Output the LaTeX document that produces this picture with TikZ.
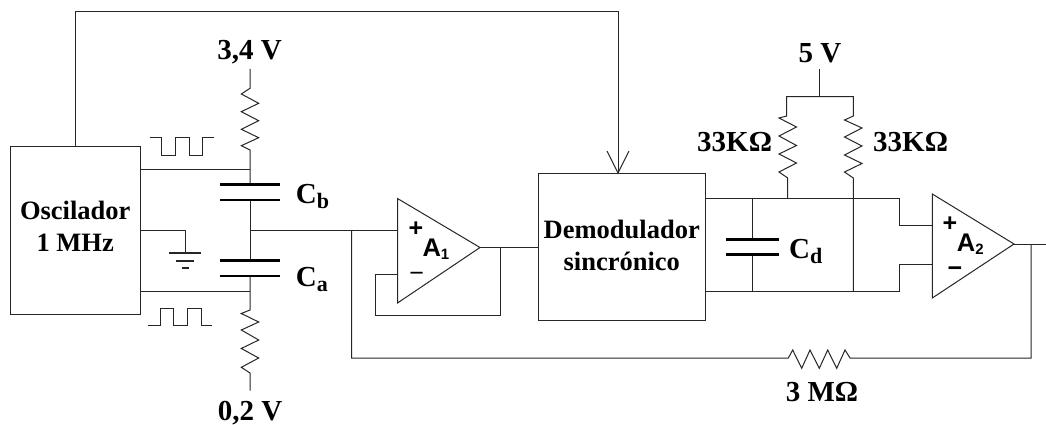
\documentclass[tikz,border=0pt]{standalone}
\usepackage{fontspec}
\setmainfont{Liberation Serif}
\newfontfamily\ampfont{Liberation Sans}
\newcommand{\lblsub}[1]{\raisebox{-5pt}{\fontsize{22}{24}\selectfont #1}}
\tikzset{
  x=1pt,y=-1pt,
  wire/.style={draw=black!85,line width=1pt,line join=miter},
  plate/.style={draw=black,line width=2.4pt},
  blockbox/.style={draw=black!85,line width=1pt,inner sep=0pt},
  blocktext/.style={inner sep=0pt,align=center,font=\bfseries\fontsize{26.5}{32}\selectfont},
  lbl/.style={anchor=base west,inner sep=0pt,font=\bfseries\fontsize{29}{30}\selectfont},
  clbl/.style={anchor=base,inner sep=0pt,font=\bfseries\fontsize{29}{30}\selectfont},
  amp/.style={anchor=base west,inner sep=0pt,font=\ampfont\bfseries\fontsize{25.5}{28}\selectfont},
  sign/.style={anchor=center,inner sep=0pt,font=\ampfont\bfseries\fontsize{25}{26}\selectfont},
  thinsign/.style={anchor=center,inner sep=0pt,font=\ampfont\fontsize{25}{26}\selectfont},
}
\begin{document}
\begin{tikzpicture}
\useasboundingbox (0,0) rectangle (1046,425);
\fill[white] (0,0) rectangle (1046,425);
% blocks
\node[blockbox,minimum width=129.5pt,minimum height=167.5pt] (osc) at (75.25,230.25) {};
\node[blocktext] (osctext) at (75.25,226) {Oscilador\\1 MHz};
\node[blockbox,minimum width=166.5pt,minimum height=146.5pt] (dem) at (621.75,246.75) {};
\node[blocktext] (demtext) at (621.75,245) {Demodulador\\sincrónico};
% op-amps
\coordinate (a1t) at (397.5,198.5); \coordinate (a1b) at (397.5,303); \coordinate (a1o) at (480,247.5);
\coordinate (a2t) at (932.3,194); \coordinate (a2b) at (932.3,298); \coordinate (a2o) at (1014,244);
\draw[wire] (a1t) -- (a1o) -- (a1b) -- cycle;
\draw[wire] (a2t) -- (a2o) -- (a2b) -- cycle;
\node[sign] (a1plus) at (416,229) {+};
\node[thinsign] (a1minus) at (416.7,276.5) {−};
\node[amp] (a1lab) at (422.3,256) {A\raisebox{-3pt}{\fontsize{15}{16}\selectfont 1}};
\node[sign] (a2plus) at (950,224.3) {+};
\node[sign] (a2minus) at (955,271.5) {−};
\node[amp] (a2lab) at (956.7,251) {A\raisebox{-3pt}{\fontsize{15}{16}\selectfont 2}};
% top reference line with open arrow
\coordinate (topl) at (75.5,11.5); \coordinate (topr) at (618,11.5);
\coordinate (arrl) at (607,151); \coordinate (arrr) at (629,151);
\draw[wire] (osc.north -| topl) -- (topl) -- (topr) -- (dem.north -| topr);
\draw[wire] (arrl) -- (dem.north -| topr) -- (arrr);
% left column, Cb
\coordinate (vtop) at (250,69); \coordinate (rbi) at (250,88.3); \coordinate (rbo) at (250,150);
\coordinate (jb) at (250,169.5); \coordinate (cb1) at (250,184.5); \coordinate (cb2) at (250,200);
\coordinate (jm) at (250,230.5); \coordinate (ca1) at (250,260.5); \coordinate (ca2) at (250,276);
\coordinate (ja) at (250,291); \coordinate (rai) at (250,310); \coordinate (rao) at (250,373); \coordinate (vbot) at (250,390.7);
\draw[wire] (vtop) -- (rbi) -- (241.3,94) -- (258.7,103.3) -- (241.3,111.7) -- (258.7,120.7) -- (241.3,129.3) -- (258.7,137.7) -- (241.3,145.7) -- (rbo) -- (jb) -- (cb1);
\draw[wire] (cb2) -- (ca1);
\draw[wire] (ca2) -- (ja) -- (rai) -- (241.3,313.5) -- (258.7,322) -- (241.3,330) -- (258.7,340) -- (241.3,348.5) -- (258.7,358) -- (241.3,367.3) -- (rao) -- (vbot);
\draw[plate] (220,184.5) -- (280,184.5);
\draw[plate] (220,200) -- (280,200);
\draw[plate] (220,260.5) -- (280,260.5);
\draw[plate] (220,276) -- (280,276);
\draw[wire] (osc.east |- jb) -- (jb);
\draw[wire] (osc.east |- ja) -- (ja);
% ground
\coordinate (gnd) at (185,253);
\draw[wire] (osc.east |- jm) -- (gnd |- jm) -- (gnd);
\draw[wire,line width=1.2pt] (169,253) -- (201,253);
\draw[wire,line width=1.2pt] (176,261) -- (194,261);
\draw[wire,line width=1.2pt] (181.5,268) -- (188.5,268);
% square waves
\draw[wire] (149.7,137.7) -- (161.7,137.7) -- (161.7,155.3) -- (175,155.3) -- (175,137.7) -- (189.3,137.7) -- (189.3,155.3) -- (202.3,155.3) -- (202.3,137.7) -- (213.7,137.7);
\draw[wire] (147.7,325.3) -- (160.3,325.3) -- (160.3,308.3) -- (173.7,308.3) -- (173.7,325.3) -- (187.3,325.3) -- (187.3,308.3) -- (201,308.3) -- (201,325.3) -- (212,325.3);
% A1 wiring
\coordinate (jin) at (351.7,230.5); \coordinate (jout) at (500,247.5);
\draw[wire] (jm) -- (jin) -- (a1t |- jin);
\draw[wire] (a1o) -- (jout) -- (dem.west |- jout);
\draw[wire] (jout) -- (500,315) -- (375.7,315) -- (375.7,274) -- (397.5,274);
% global feedback
\coordinate (jfb) at (1031,244); \coordinate (rfi) at (788.3,358); \coordinate (rfo) at (850,358); \coordinate (outend) at (1046,244);
\draw[wire] (a2o) -- (outend);
\draw[wire] (jin) -- (351.7,358) -- (rfi) -- (792.7,350) -- (801.7,368.3) -- (810,350) -- (819.3,368.3) -- (827.7,350) -- (836.7,368.3) -- (845,350) -- (rfo) -- (1031,358) -- (jfb);
% right network
\coordinate (v5) at (819.3,69.3); \coordinate (j5) at (819.3,96.7);
\coordinate (rl) at (786.7,96.7); \coordinate (rr) at (853.3,96.7);
\coordinate (jl) at (787.7,198); \coordinate (jr) at (853.3,198); \coordinate (jr2) at (853.3,291);
\coordinate (jc1) at (752,198); \coordinate (jc2) at (752,291);
\coordinate (railt) at (899.3,198); \coordinate (railb) at (899.3,291);
\draw[wire] (v5) -- (j5);
\draw[wire] (jl) -- (787.7,178) -- (779,172) -- (796.5,163) -- (779,154) -- (796.5,145.5) -- (779,136) -- (796.5,127) -- (779,118) -- (786.7,116) -- (rl) -- (rr) -- (853.3,116) -- (844.5,120) -- (862,128) -- (844.5,137) -- (862,146) -- (844.5,155) -- (862,163.5) -- (844.5,172) -- (853.3,178) -- (jr) -- (jr2);
\draw[wire] (dem.east |- jl) -- (railt) -- (899.3,225.3) -- (a2t |- 0,225.3);
\draw[wire] (dem.east |- jr2) -- (railb) -- (899.3,264.3) -- (a2t |- 0,264.3);
\draw[wire] (jc1) -- (752,239.3);
\draw[wire] (752,254.3) -- (jc2);
\draw[plate] (726,239.3) -- (779,239.3);
\draw[plate] (726,254.3) -- (779,254.3);
% labels
\node[clbl] (v34) at (249.5,60) {3,4 V};
\node[clbl] (v02) at (250,420) {0,2 V};
\node[clbl] (v50) at (820,63) {5 V};
\node[lbl] (cbl) at (295.7,203) {C\lblsub{b}};
\node[lbl] (cal) at (295.7,286) {C\lblsub{a}};
\node[lbl] (cdl) at (789,258) {C\lblsub{d}};
\node[lbl] (r1l) at (697,151.7) {33KΩ};
\node[lbl] (r2l) at (873,151.7) {33KΩ};
\node[clbl] (r3l) at (822,401.7) {3 MΩ};
\end{tikzpicture}
\end{document}
